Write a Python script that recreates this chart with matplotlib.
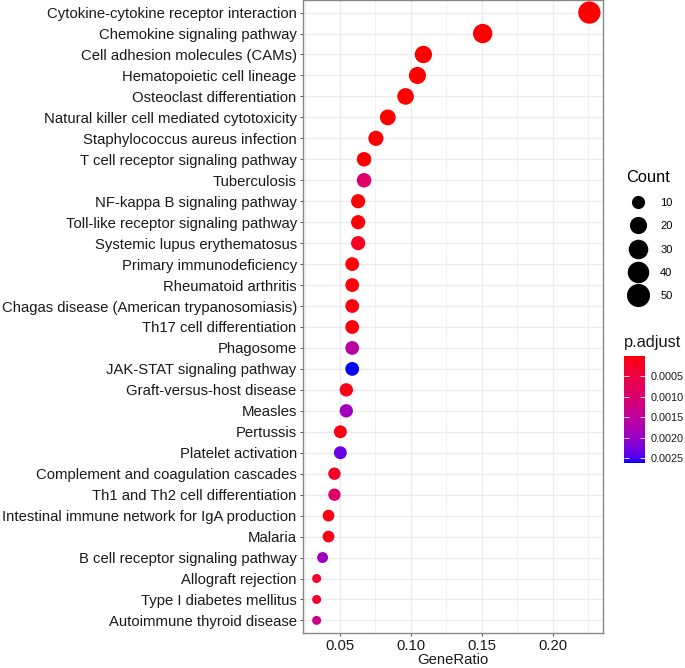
#!/usr/bin/env python3
"""
KEGG enrichment dotplot: GeneRatio vs pathway, dot size = Count,
colour = p.adjust (red -> blue, interpolated in CIELAB like ggplot).
"""

import numpy as np
import matplotlib

matplotlib.use("Agg")
import matplotlib.pyplot as plt
from matplotlib.colors import ListedColormap, Normalize
from matplotlib.lines import Line2D

plt.rcParams["font.family"] = ["Liberation Sans", "DejaVu Sans"]

# ═══════════════════════════════════════════════════════════════════════════
# Data (top row first)
# ═══════════════════════════════════════════════════════════════════════════

pathways = [
    "Cytokine-cytokine receptor interaction",
    "Chemokine signaling pathway",
    "Cell adhesion molecules (CAMs)",
    "Hematopoietic cell lineage",
    "Osteoclast differentiation",
    "Natural killer cell mediated cytotoxicity",
    "Staphylococcus aureus infection",
    "T cell receptor signaling pathway",
    "Tuberculosis",
    "NF-kappa B signaling pathway",
    "Toll-like receptor signaling pathway",
    "Systemic lupus erythematosus",
    "Primary immunodeficiency",
    "Rheumatoid arthritis",
    "Chagas disease (American trypanosomiasis)",
    "Th17 cell differentiation",
    "Phagosome",
    "JAK-STAT signaling pathway",
    "Graft-versus-host disease",
    "Measles",
    "Pertussis",
    "Platelet activation",
    "Complement and coagulation cascades",
    "Th1 and Th2 cell differentiation",
    "Intestinal immune network for IgA production",
    "Malaria",
    "B cell receptor signaling pathway",
    "Allograft rejection",
    "Type I diabetes mellitus",
    "Autoimmune thyroid disease",
]

counts = [54, 36, 26, 25, 23, 20, 18, 16, 16, 15, 15, 15, 14, 14, 14,
          14, 14, 14, 13, 13, 12, 12, 11, 11, 10, 10, 9, 8, 8, 8]
n_genes = 239

p_adjust = [1e-12, 1e-9, 1e-7, 1e-7, 1e-6, 1e-6, 1e-5, 2e-5, 0.00092, 3e-5,
            3e-5, 0.00020, 5e-5, 5e-5, 6e-5, 5e-5, 0.00155, 0.00261, 0.00012,
            0.00188, 0.00010, 0.00235, 0.00025, 0.00090, 0.00010, 0.00008,
            0.00190, 0.00030, 0.00030, 0.00130]

size_breaks = [10, 20, 30, 40, 50]
cbar_ticks = [0.0005, 0.0010, 0.0015, 0.0020, 0.0025]

DPI = 100
TEXT = "#1a1a1a"
GRID = "#ebebeb"
FS = 10.7


# ═══════════════════════════════════════════════════════════════════════════
# Helpers
# ═══════════════════════════════════════════════════════════════════════════

_M = np.array([[0.4124564, 0.3575761, 0.1804375],
               [0.2126729, 0.7151522, 0.0721750],
               [0.0193339, 0.1191920, 0.9503041]])
_WHITE = np.array([0.95047, 1.0, 1.08883])
_D = 6.0 / 29.0


def srgb_to_lab(rgb):
    c = np.asarray(rgb, float)
    lin = np.where(c <= 0.04045, c / 12.92, ((c + 0.055) / 1.055) ** 2.4)
    r = (_M @ lin) / _WHITE
    f = np.where(r > _D ** 3, np.cbrt(r), r / (3 * _D ** 2) + 4.0 / 29.0)
    return np.array([116 * f[1] - 16, 500 * (f[0] - f[1]), 200 * (f[1] - f[2])])


def lab_to_srgb(lab):
    L, a, b = lab
    fy = (L + 16) / 116
    f = np.array([fy + a / 500, fy, fy - b / 200])
    r = np.where(f > _D, f ** 3, 3 * _D ** 2 * (f - 4.0 / 29.0))
    lin = np.linalg.solve(_M, r * _WHITE)
    lin = np.clip(lin, 0, 1)
    c = np.where(lin <= 0.0031308, 12.92 * lin, 1.055 * lin ** (1 / 2.4) - 0.055)
    return np.clip(c, 0, 1)


def lab_cmap(lo, hi, n=256):
    a, b = srgb_to_lab(lo), srgb_to_lab(hi)
    cols = [lab_to_srgb(a + (b - a) * t) for t in np.linspace(0, 1, n)]
    return ListedColormap(cols)


def size_pt(c, cmin, cmax):
    """ggplot scale_size(range=c(3, 8)) -> marker diameter in points."""
    s = 3 + 5 * np.sqrt((np.asarray(c, float) - cmin) / (cmax - cmin))
    d_px = 1 + 2.66 * s
    return d_px * 72.0 / DPI


# ═══════════════════════════════════════════════════════════════════════════
# Plot
# ═══════════════════════════════════════════════════════════════════════════

ratio = np.array(counts) / n_genes
cnt = np.array(counts)
pad = np.array(p_adjust)
ypos = np.arange(len(pathways))[::-1]

cmap = lab_cmap((1, 0, 0), (0, 0, 1))
norm = Normalize(vmin=pad.min(), vmax=pad.max())
cmin, cmax = cnt.min(), cnt.max()

fig = plt.figure(figsize=(6.85, 6.68), dpi=DPI)
ax = fig.add_axes([303 / 685, 35 / 668, 300 / 685, 633 / 668])

ax.scatter(ratio, ypos, s=size_pt(cnt, cmin, cmax) ** 2, c=pad, cmap=cmap,
           norm=norm, linewidths=0, zorder=3)

span = ratio.max() - ratio.min()
ax.set_xlim(ratio.min() - 0.05 * span, ratio.max() + 0.05 * span)
ax.set_ylim(-0.6, len(pathways) - 0.4)

ax.set_yticks(ypos)
ax.set_yticklabels(pathways)
ax.set_xticks([0.05, 0.10, 0.15, 0.20])
ax.set_xticks([0.025, 0.075, 0.125, 0.175, 0.225], minor=True)
ax.set_xticklabels(["0.05", "0.10", "0.15", "0.20"])
ax.tick_params(axis="both", which="major", length=2.5, width=0.6,
               color="#333333", labelsize=FS, labelcolor=TEXT, pad=2)
ax.tick_params(axis="x", which="minor", length=0)
ax.grid(True, which="major", color=GRID, lw=0.9, zorder=0)
ax.grid(True, which="minor", axis="x", color=GRID, lw=0.5, zorder=0)
ax.set_axisbelow(True)
for sp in ax.spines.values():
    sp.set_color("#888888")
    sp.set_linewidth(1.0)
ax.set_xlabel("GeneRatio", fontsize=FS, color=TEXT, labelpad=0)

# Count legend
handles = [
    Line2D([], [], ls="", marker="o", color="black",
           markersize=size_pt(v, cmin, cmax))
    for v in size_breaks
]
leg = fig.legend(handles, [str(v) for v in size_breaks], title="Count",
                 loc="upper left", bbox_to_anchor=(621 / 685, 1 - 164 / 668),
                 frameon=False, fontsize=8, title_fontsize=11.8,
                 labelspacing=1.2, handletextpad=0.92, borderpad=0,
                 handlelength=2.1)
leg._legend_box.align = "left"

# p.adjust colour bar
cax = fig.add_axes([623.5 / 685, 1 - 462.7 / 668, 21.5 / 685, 107 / 668])
cb = fig.colorbar(plt.cm.ScalarMappable(norm=norm, cmap=cmap), cax=cax)
cb.outline.set_visible(False)
cax.invert_yaxis()
cb.set_ticks(cbar_ticks)
cb.set_ticklabels([f"{t:.4f}" for t in cbar_ticks])
cax.yaxis.set_ticks_position("both")
cax.tick_params(direction="in", length=3.5, width=0.6, color="white",
                labelsize=7.8, labelcolor=TEXT, pad=4, labelleft=False,
                labelright=True)
fig.text(624 / 685, 1 - 343 / 668, "p.adjust", fontsize=11.8, color=TEXT,
         va="center", ha="left")

fig.savefig("out.png", dpi=DPI, facecolor="white")
